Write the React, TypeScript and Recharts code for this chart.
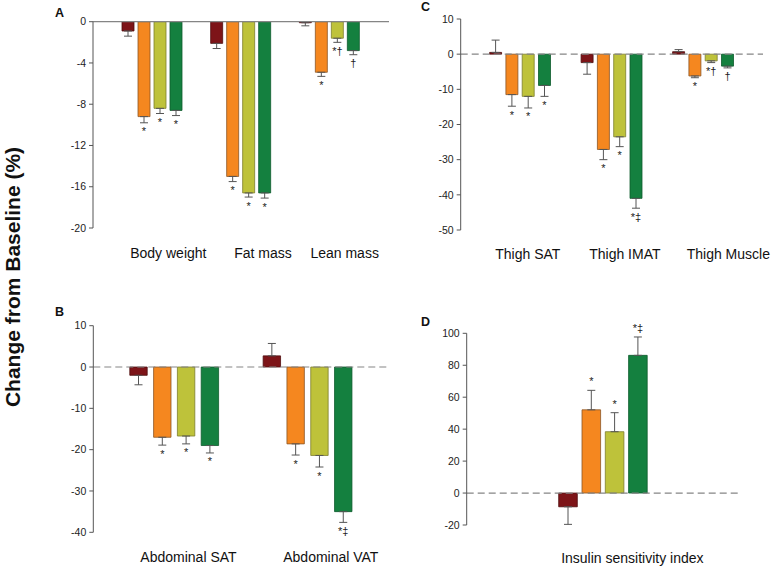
import React from "react";
import { BarChart, Bar, XAxis, YAxis, ReferenceLine, ErrorBar, LabelList } from "recharts";

const FONT = '"Liberation Sans", Arial, Helvetica, sans-serif';
const COLORS = ["#7d1418", "#f5871f", "#bec23a", "#14803f"];
const STROKES = ["#4f0c0e", "#8a5526", "#7c7d2c", "#0d5a2c"];

// A: body composition
const aCategories = ["Body weight", "Fat mass", "Lean mass"];
const aMeans = [
  [-0.9, -2.1, -0.1],
  [-9.2, -15.0, -4.9],
  [-8.4, -16.6, -1.6],
  [-8.6, -16.6, -2.8],
];
const aErrors = [
  [0.5, 0.5, 0.3],
  [0.6, 0.5, 0.4],
  [0.5, 0.4, 0.4],
  [0.5, 0.5, 0.4],
];
const aMarks = [
  ["", "", ""],
  ["*", "*", "*"],
  ["*", "*", "*†"],
  ["*", "*", "†"],
];
const aTicks = [0, -4, -8, -12, -16, -20];

// B: abdominal fat
const bCategories = ["Abdominal SAT", "Abdominal VAT"];
const bMeans = [
  [-2.0, 2.7],
  [-17.0, -18.6],
  [-16.7, -21.4],
  [-19.0, -35.0],
];
const bErrors = [
  [2.3, 3.0],
  [1.9, 2.7],
  [1.9, 2.8],
  [1.8, 2.6],
];
const bMarks = [
  ["", ""],
  ["*", "*"],
  ["*", "*"],
  ["*", "*‡"],
];
const bTicks = [10, 0, -10, -20, -30, -40];

// C: thigh
const cCategories = ["Thigh SAT", "Thigh IMAT", "Thigh Muscle"];
const cMeans = [
  [0.5, -2.4, 0.7],
  [-11.5, -27.1, -6.2],
  [-12.0, -23.5, -1.9],
  [-8.9, -41.0, -3.4],
];
const cErrors = [
  [3.5, 3.3, 0.6],
  [3.3, 2.9, 0.5],
  [3.3, 2.8, 0.5],
  [3.1, 2.8, 0.5],
];
const cMarks = [
  ["", "", ""],
  ["*", "*", "*"],
  ["*", "*", "*†"],
  ["*", "*‡", "†"],
];
const cTicks = [10, 0, -10, -20, -30, -40, -50];

// D: insulin sensitivity
const dCategories = ["Insulin sensitivity index"];
const dMeans = [[-8.6], [52.1], [38.4], [86.2]];
const dErrors = [[11.0], [12.2], [11.9], [11.5]];
const dMarks = [[""], ["*"], ["*"], ["*‡"]];
const dTicks = [100, 80, 60, 40, 20, 0, -20];

function buildRows(categories: string[], means: number[][], errors: number[][]) {
  return categories.map((name, j) => {
    const row: any = { name };
    means.forEach((series, i) => {
      const v = series[j];
      const e = errors[i][j];
      row[`v${i}`] = v;
      row[`e${i}`] = v < 0 ? [e, 0] : [0, e];
    });
    return row;
  });
}

function markContent(marks: string[], means: number[], errors: number[]) {
  return (props: any) => {
    const vb = props.viewBox && props.viewBox.x != null ? props.viewBox : props;
    const idx = props.index;
    const mark = marks[idx];
    if (!mark) return null;
    const x = Number(vb.x);
    const y = Number(vb.y);
    const w = Number(vb.width);
    const h = Number(vb.height);
    const v = means[idx];
    const pxPer = Math.abs(h) / Math.abs(v);
    const top = Math.min(y, y + h);
    const bottom = Math.max(y, y + h);
    const errPx = errors[idx] * pxPer;
    const ty = v < 0 ? bottom + errPx + 12.5 : top - errPx - 5;
    return (
      <text
        key={`m-${idx}`}
        x={x + w / 2}
        y={ty}
        textAnchor="middle"
        style={{ fill: "#222", stroke: "none", fontSize: 11, fontFamily: FONT }}
      >
        {mark}
      </text>
    );
  };
}

// category labels sit a little right of their bar groups in the original
function CategoryTick(props: any) {
  const { x, y, payload, index, shifts } = props;
  const dx = shifts[index] ?? 0;
  return (
    <text
      x={x + dx}
      y={y}
      dy="0.71em"
      textAnchor="middle"
      style={{ fill: "#111", fontSize: 14, fontFamily: FONT }}
    >
      {payload.value}
    </text>
  );
}

type PanelProps = {
  left: number;
  top: number;
  width: number;
  height: number;
  margin: { top: number; right: number; bottom: number; left: number };
  yWidth: number;
  pad: number;
  barSize: number;
  barGap: number;
  labelOffset: number;
  labelShift: number[];
  dashed: boolean;
  domain: [number, number];
  ticks: number[];
  categories: string[];
  means: number[][];
  errors: number[][];
  marks: string[][];
};

function Panel(p: PanelProps) {
  const rows = buildRows(p.categories, p.means, p.errors);
  return (
    <div style={{ position: "absolute", left: p.left, top: p.top }}>
      <BarChart
        width={p.width}
        height={p.height}
        data={rows}
        margin={p.margin}
        barSize={p.barSize}
        barGap={p.barGap}
        style={{ overflow: "visible" }}
      >
        <XAxis
          dataKey="name"
          axisLine={false}
          tickLine={false}
          tickSize={0}
          tickMargin={p.labelOffset}
          height={30}
          interval={0}
          padding={{ left: p.pad, right: p.pad }}
          tick={(tp: any) => <CategoryTick {...tp} shifts={p.labelShift} />}
        />
        <YAxis
          type="number"
          domain={p.domain}
          ticks={p.ticks}
          interval={0}
          width={p.yWidth}
          tickSize={4}
          tickMargin={3}
          axisLine={{ stroke: "#555" }}
          tickLine={{ stroke: "#555" }}
          tick={{ fontSize: 10.5, fill: "#222", fontFamily: FONT }}
        />
        <ReferenceLine
          y={0}
          stroke="#858585"
          strokeWidth={1.2}
          strokeDasharray={p.dashed ? "7 4" : undefined}
        />
        {COLORS.map((c, i) => (
          <Bar
            key={i}
            dataKey={`v${i}`}
            fill={c}
            stroke={STROKES[i]}
            strokeWidth={0.8}
            isAnimationActive={false}
          >
            <ErrorBar dataKey={`e${i}`} width={4} stroke="#555" strokeWidth={1} direction="y" />
            <LabelList dataKey={`v${i}`} content={markContent(p.marks[i], p.means[i], p.errors[i])} />
          </Bar>
        ))}
      </BarChart>
    </div>
  );
}

export default function App() {
  const letter = { fontSize: 12.5, fontWeight: 700, fill: "#111", fontFamily: FONT };
  return (
    <div style={{ position: "absolute", left: 0, top: 0, width: 772, height: 568, background: "#fff" }}>
      <Panel
        left={30}
        top={0}
        width={370}
        height={270}
        margin={{ top: 21.7, right: 11, bottom: 12, left: 0 }}
        yWidth={63}
        pad={15}
        barSize={12}
        barGap={4}
        labelOffset={20}
        labelShift={[16, 22, 15]}
        dashed={false}
        domain={[-20, 0]}
        ticks={aTicks}
        categories={aCategories}
        means={aMeans}
        errors={aErrors}
        marks={aMarks}
      />
      <Panel
        left={30}
        top={290}
        width={370}
        height={278}
        margin={{ top: 35.7, right: 11, bottom: 5.7, left: 0 }}
        yWidth={63.3}
        pad={14.5}
        barSize={17.4}
        barGap={6.4}
        labelOffset={19.4}
        labelShift={[14, 23]}
        dashed={true}
        domain={[-40, 10]}
        ticks={bTicks}
        categories={bCategories}
        means={bMeans}
        errors={bErrors}
        marks={bMarks}
      />
      <Panel
        left={400}
        top={0}
        width={372}
        height={270}
        margin={{ top: 19, right: 9, bottom: 10, left: 0 }}
        yWidth={60.7}
        pad={13.9}
        barSize={12}
        barGap={4.3}
        labelOffset={19.3}
        labelShift={[7.5, 13, 25]}
        dashed={true}
        domain={[-50, 10]}
        ticks={cTicks}
        categories={cCategories}
        means={cMeans}
        errors={cErrors}
        marks={cMarks}
      />
      <Panel
        left={400}
        top={290}
        width={372}
        height={278}
        margin={{ top: 43.3, right: 32, bottom: 13, left: 0 }}
        yWidth={66.7}
        pad={0}
        barSize={18.6}
        barGap={4.7}
        labelOffset={27.7}
        labelShift={[29]}
        dashed={true}
        domain={[-20, 100]}
        ticks={dTicks}
        categories={dCategories}
        means={dMeans}
        errors={dErrors}
        marks={dMarks}
      />
      <svg
        width={772}
        height={568}
        style={{ position: "absolute", left: 0, top: 0, pointerEvents: "none" }}
      >
        <text
          x={20}
          y={277}
          transform="rotate(-90, 20, 277)"
          textAnchor="middle"
          fontSize={21}
          fontWeight={700}
          fill="#111"
          fontFamily={FONT}
        >
          Change from Baseline (%)
        </text>
        <text x={55} y={17} {...letter}>A</text>
        <text x={55} y={316} {...letter}>B</text>
        <text x={421} y={11} {...letter}>C</text>
        <text x={421} y={326} {...letter}>D</text>
      </svg>
    </div>
  );
}
